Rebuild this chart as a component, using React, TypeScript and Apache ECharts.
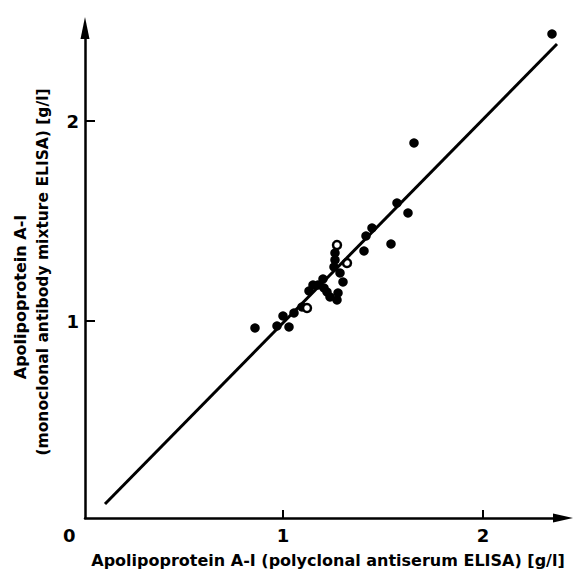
import React, { useEffect, useRef } from "react";
import * as echarts from "echarts";

// Apolipoprotein A-I (g/l): polyclonal ELISA (x) vs monoclonal mixture ELISA (y)
const filledPoints: [number, number][] = [
  [0.86, 0.965], [0.97, 0.975], [1.0, 1.025], [1.03, 0.97], [1.055, 1.04],
  [1.095, 1.07], [1.13, 1.15], [1.15, 1.18], [1.175, 1.18], [1.2, 1.21],
  [1.205, 1.165], [1.22, 1.145], [1.235, 1.12], [1.275, 1.14], [1.27, 1.105],
  [1.255, 1.27], [1.26, 1.34], [1.26, 1.305], [1.285, 1.24], [1.3, 1.195],
  [1.405, 1.35], [1.415, 1.425], [1.445, 1.465], [1.54, 1.385], [1.57, 1.59],
  [1.625, 1.54], [1.655, 1.89], [2.345, 2.435],
];
const openPoints: [number, number][] = [
  [1.12, 1.065], [1.27, 1.38], [1.32, 1.29],
];
const regressionLine: [number, number][] = [
  [0.11, 0.085], [2.37, 2.385],
];
const tickValues = [1, 2];

const FONT = "'DejaVu Sans', sans-serif";

export default function App() {
  const ref = useRef<HTMLDivElement>(null);
  useEffect(() => {
    if (!ref.current) return;
    const chart = echarts.init(ref.current, undefined, { renderer: "svg" });
    chart.setOption({
      animation: false,
      backgroundColor: "#fff",
      grid: { left: 85, right: 10, top: 28, bottom: 51 },
      xAxis: {
        type: "value",
        min: 0.01,
        max: 2.4,
        splitLine: { show: false },
        axisLine: {
          onZero: false,
          lineStyle: { color: "#000", width: 2.5 },
          symbol: ["none", "triangle"],
          symbolSize: [9, 20],
        },
        axisTick: {
          inside: true,
          length: 8,
          customValues: tickValues,
          lineStyle: { color: "#000", width: 2 },
        },
        axisLabel: {
          customValues: tickValues,
          color: "#000",
          fontFamily: FONT,
          fontWeight: "bold",
          fontSize: 18,
          margin: 8,
        },
      },
      yAxis: {
        type: "value",
        min: 0.015,
        max: 2.465,
        splitLine: { show: false },
        axisLine: {
          onZero: false,
          lineStyle: { color: "#000", width: 2.5 },
          symbol: ["none", "triangle"],
          symbolSize: [9, 22],
        },
        axisTick: {
          inside: true,
          length: 10,
          customValues: tickValues,
          lineStyle: { color: "#000", width: 2 },
        },
        axisLabel: {
          customValues: tickValues,
          color: "#000",
          fontFamily: FONT,
          fontWeight: "bold",
          fontSize: 18,
          margin: 6,
        },
      },
      series: [
        {
          type: "line",
          data: regressionLine,
          symbol: "none",
          lineStyle: { color: "#000", width: 3 },
        },
        {
          type: "scatter",
          data: filledPoints,
          symbol: "circle",
          symbolSize: 9.5,
          itemStyle: { color: "#000", opacity: 1 },
        },
        {
          type: "scatter",
          data: openPoints,
          symbol: "circle",
          symbolSize: 8,
          itemStyle: { color: "#fff", borderColor: "#000", borderWidth: 2.5, opacity: 1 },
        },
      ],
      graphic: [
        {
          type: "text",
          left: 63,
          top: 526,
          style: { text: "0", fill: "#000", font: `bold 18px ${FONT}` },
        },
        {
          type: "text",
          x: 328,
          y: 560,
          style: {
            text: "Apolipoprotein A-I (polyclonal antiserum ELISA) [g/l]",
            fill: "#000",
            font: `bold 16px ${FONT}`,
            align: "center",
            verticalAlign: "middle",
          },
        },
        {
          type: "text",
          x: 20,
          y: 297,
          rotation: Math.PI / 2,
          style: {
            text: "Apolipoprotein A-I",
            fill: "#000",
            font: `bold 16px ${FONT}`,
            align: "center",
            verticalAlign: "middle",
          },
        },
        {
          type: "text",
          x: 43,
          y: 272,
          rotation: Math.PI / 2,
          style: {
            text: "(monoclonal antibody mixture ELISA) [g/l]",
            fill: "#000",
            font: `bold 15.5px ${FONT}`,
            align: "center",
            verticalAlign: "middle",
          },
        },
      ],
    });
    return () => chart.dispose();
  }, []);
  return (
    <div
      ref={ref}
      style={{ position: "fixed", left: 0, top: 0, width: 573, height: 569 }}
    />
  );
}
